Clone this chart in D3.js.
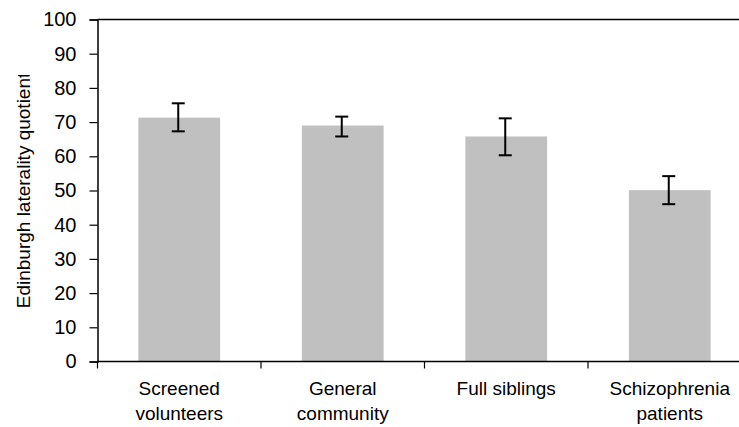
<!DOCTYPE html>
<html>
<head>
<meta charset="utf-8">
<script src="https://cdn.jsdelivr.net/npm/d3@7"></script>
<style>
  html, body { margin: 0; padding: 0; background: #fff; }
  svg { display: block; }
  text { font-family: "Liberation Sans", Arial, sans-serif; fill: #000; }
</style>
</head>
<body>
<svg id="chart" width="739" height="427"></svg>
<script>
// ---- data ----
const categories = [["Screened", "volunteers"], ["General", "community"], ["Full siblings"], ["Schizophrenia", "patients"]];
const means = [71.3, 69.0, 65.8, 50.1];
const errLow = [67.3, 65.8, 60.3, 46.0];
const errHigh = [75.5, 71.6, 71.1, 54.2];
const yTicks = [0, 10, 20, 30, 40, 50, 60, 70, 80, 90, 100];
const yLabel = "Edinburgh laterality quotient";

(function () {
// ---- layout ----
const svg = d3.select("#chart");
const W = 739;
const mLeft = 97.5, mTop = 19.5, mBottom = 361.5;
const idx = d3.range(categories.length);

const x = d3.scaleBand().domain(idx).range([mLeft, mLeft + 4 * 163.5]).paddingInner(0).paddingOuter(0);
const y = d3.scaleLinear().domain([0, 100]).range([mBottom, mTop]);

// bars
const barW = x.bandwidth() * 0.5;
svg.append("g").selectAll("rect").data(idx).join("rect")
  .attr("x", i => x(i) + (x.bandwidth() - barW) / 2)
  .attr("y", i => y(means[i]))
  .attr("width", barW)
  .attr("height", i => y(0) - y(means[i]))
  .attr("fill", "#c0c0c0");

// error bars
const eb = svg.append("g").attr("stroke", "#000").attr("stroke-width", 2);
idx.forEach(i => {
  const cx = x(i) + x.bandwidth() / 2 - 1;
  eb.append("line").attr("x1", cx).attr("x2", cx).attr("y1", y(errLow[i])).attr("y2", y(errHigh[i]));
  eb.append("line").attr("x1", cx - 6.5).attr("x2", cx + 6.5).attr("y1", y(errLow[i])).attr("y2", y(errLow[i]));
  eb.append("line").attr("x1", cx - 6.5).attr("x2", cx + 6.5).attr("y1", y(errHigh[i])).attr("y2", y(errHigh[i]));
});

// y axis
const yAxis = d3.axisLeft(y).tickValues(yTicks).tickSize(8).tickPadding(13);
const gy = svg.append("g").attr("transform", `translate(${mLeft},0)`).call(yAxis);
gy.select(".domain").attr("stroke", "#000").attr("stroke-width", 1.5);
gy.selectAll(".tick line").attr("stroke", "#000").attr("stroke-width", 1.2);
gy.selectAll(".tick text").attr("font-size", 20).attr("font-family", "Liberation Sans, Arial, sans-serif").attr("fill", "#000");

// top border line
svg.append("line").attr("x1", mLeft).attr("x2", W).attr("y1", mTop).attr("y2", mTop)
  .attr("stroke", "#000").attr("stroke-width", 1.5);

// x axis line
svg.append("line").attr("x1", mLeft).attr("x2", W).attr("y1", mBottom).attr("y2", mBottom)
  .attr("stroke", "#000").attr("stroke-width", 1.5);
// category boundary ticks
svg.append("g").selectAll("line").data(idx).join("line")
  .attr("x1", i => x(i)).attr("x2", i => x(i))
  .attr("y1", mBottom).attr("y2", mBottom + 7)
  .attr("stroke", "#000").attr("stroke-width", 1.2);

// category labels
svg.append("g").selectAll("text").data(idx).join("text")
  .attr("x", i => x(i) + x.bandwidth() / 2)
  .attr("y", 395)
  .attr("text-anchor", "middle")
  .attr("font-size", 19)
  .each(function(i) {
    const t = d3.select(this);
    categories[i].forEach((line, k) => {
      t.append("tspan").attr("x", x(i) + x.bandwidth() / 2).attr("dy", k === 0 ? 0 : 25).text(line);
    });
  });

// y label (clipped at top like reference)
svg.append("clipPath").attr("id", "ylab-clip")
  .append("rect").attr("x", 0).attr("y", 75).attr("width", 60).attr("height", 320);
svg.append("g").attr("clip-path", "url(#ylab-clip)")
  .append("text")
  .attr("transform", `translate(30,${(mTop + mBottom) / 2}) rotate(-90)`)
  .attr("text-anchor", "middle")
  .attr("font-size", 19)
  .text(yLabel);
})();
</script>
</body>
</html>
